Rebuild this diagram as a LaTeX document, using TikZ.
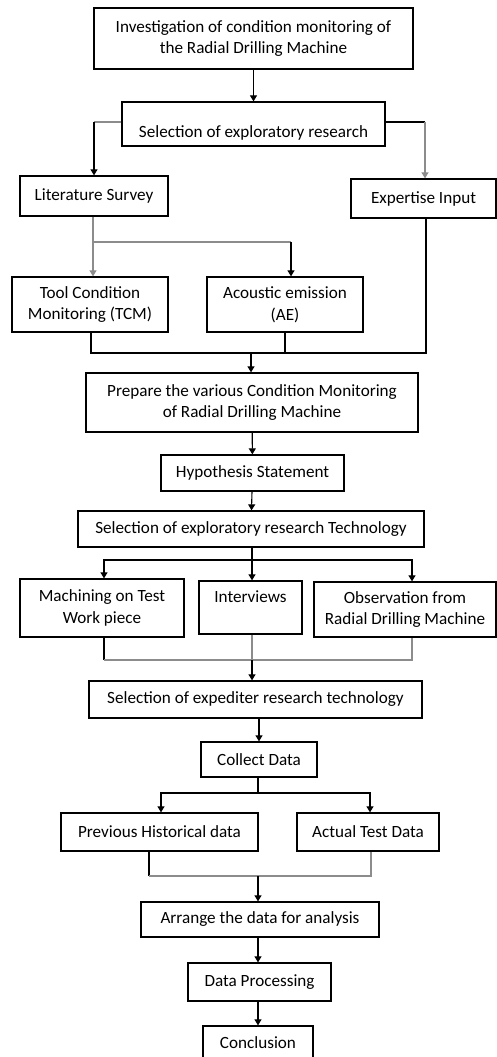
\documentclass[tikz,border=0pt]{standalone}
\usepackage{fontspec}
\setmainfont{Carlito}
\usetikzlibrary{arrows.meta,calc}
\begin{document}
\begin{tikzpicture}[x=1bp,y=-1bp,
  box/.style={draw=black,line width=1.3bp,fill=white,align=center,inner sep=1bp,
    font=\fontsize{17.2}{22}\selectfont},
  conn/.style={line width=1.1bp,draw=black},
  gconn/.style={line width=1.1bp,draw=black!45},
  arr/.style={conn,-{Triangle[length=6bp,width=7bp]}},
  garr/.style={gconn,-{Triangle[length=6bp,width=7bp]}}]
\useasboundingbox (0,0) rectangle (497,1057);
\node[box,minimum width=319bp,minimum height=61bp] (inv) at (253.5,38.5) {Investigation of condition monitoring of\\the Radial Drilling Machine};
\node[box,minimum width=263bp,minimum height=44bp,text height=30bp,text depth=4bp] (selr) at (253.5,124) {Selection of exploratory research};
\node[box,minimum width=148bp,minimum height=40bp] (lit) at (94,196) {Literature Survey};
\node[box,minimum width=145bp,minimum height=39bp] (exp) at (423.5,198.5) {Expertise Input};
\node[box,minimum width=156bp,minimum height=55bp] (tcm) at (90,304.5) {Tool Condition\\Monitoring (TCM)};
\node[box,minimum width=156bp,minimum height=55bp] (ae) at (285,304.5) {Acoustic emission\\(AE)};
\node[box,minimum width=332bp,minimum height=59bp] (prep) at (252,402.5) {Prepare the various Condition Monitoring\\of Radial Drilling Machine};
\node[box,minimum width=183bp,minimum height=36bp] (hyp) at (252.5,473) {Hypothesis Statement};
\node[box,minimum width=346bp,minimum height=36bp] (selt) at (251,529) {Selection of exploratory research Technology};
\node[box,minimum width=164bp,minimum height=58bp] (mach) at (102,608) {Machining on Test\\Work piece};
\node[box,minimum width=103bp,minimum height=53bp] (intv) at (250.5,607.5) {Interviews\\\mbox{}};
\node[box,minimum width=182bp,minimum height=55bp] (obs) at (405,609.5) {Observation from\\Radial Drilling Machine};
\node[box,minimum width=333bp,minimum height=37bp] (expd) at (255.5,699.5) {Selection of expediter research technology};
\node[box,minimum width=116bp,minimum height=35bp] (coll) at (259,759.5) {Collect Data};
\node[box,minimum width=197bp,minimum height=38bp] (prev) at (159.5,832) {Previous Historical data};
\node[box,minimum width=142bp,minimum height=38bp] (act) at (368,832) {Actual Test Data};
\node[box,minimum width=238bp,minimum height=35bp] (arr) at (260,919.5) {Arrange the data for analysis};
\node[box,minimum width=143bp,minimum height=38bp] (dp) at (259.5,982) {Data Processing};
\node[box,minimum width=110bp,minimum height=34bp] (conc) at (258,1043) {Conclusion};
% helper coordinates
\coordinate (srw) at ([yshift=2bp]selr.west);
\coordinate (sre) at ([yshift=2bp]selr.east);
\coordinate (expn) at ([xshift=1.5bp]exp.north);
\coordinate (exps) at ([xshift=2.5bp]exp.south);
\coordinate (aen) at ([xshift=6bp]ae.north);
\coordinate (tcms) at ([xshift=1bp]tcm.south);
\coordinate (machn) at ([xshift=2bp]mach.north);
\coordinate (machs) at ([xshift=2bp]mach.south);
\coordinate (obsn) at ([xshift=7bp]obs.north);
\coordinate (obss) at ([xshift=7bp]obs.south);
\coordinate (prevn) at ([xshift=1.5bp]prev.north);
\coordinate (prevs) at ([xshift=-10.5bp]prev.south);
\coordinate (actn) at ([xshift=2bp]act.north);
\coordinate (acts) at ([xshift=3bp]act.south);
% connectors
\draw[arr] (inv) -- (selr);
\draw[gconn] (srw) -- (srw -| lit.north);
\draw[arr] (srw -| lit.north) -- (lit.north);
\draw[conn] (sre) -- (sre -| expn);
\draw[garr] (sre -| expn) -- (expn);
\coordinate (b1) at (93,242);
\draw[garr] (lit.south -| b1) -- (tcm.north -| b1);
\draw[gconn] (b1) -- (b1 -| aen);
\draw[arr] (b1 -| aen) -- (aen);
\coordinate (m1) at (251,353);
\draw[conn] (tcms) |- (exps |- m1) -- (exps);
\draw[conn] (ae.south) -- (ae.south |- m1);
\draw[arr] (m1) -- (prep.north -| m1);
\draw[arr] (prep) -- (hyp);
\draw[arr] (hyp) -- (selt);
\coordinate (s2) at (252,560);
\draw[conn] (selt.south -| s2) -- (s2);
\draw[arr] (s2) -| (machn);
\draw[arr] (s2) -| (obsn);
\draw[arr] (s2) -- (intv.north -| s2);
\coordinate (m2) at (252,660);
\draw[conn] (machs) -- (machs |- m2);
\draw[gconn] (machs |- m2) -- (obss |- m2) -- (obss);
\draw[gconn] (intv.south -| m2) -- (m2);
\draw[arr] (m2) -- (expd.north -| m2);
\draw[arr] (expd.south -| coll.north) -- (coll.north);
\coordinate (s3) at (258,793);
\draw[conn] (coll.south -| s3) -- (s3);
\draw[arr] (s3) -| (prevn);
\draw[arr] (s3) -| (actn);
\coordinate (m3) at (258,876);
\draw[conn] (prevs) -- (prevs |- m3);
\draw[gconn] (prevs |- m3) -- (acts |- m3) -- (acts);
\draw[arr] (m3) -- (arr.north -| m3);
\draw[arr] (arr.south -| m3) -- (dp.north -| m3);
\draw[arr] (dp.south -| m3) -- (conc.north -| m3);
\end{tikzpicture}
\end{document}
